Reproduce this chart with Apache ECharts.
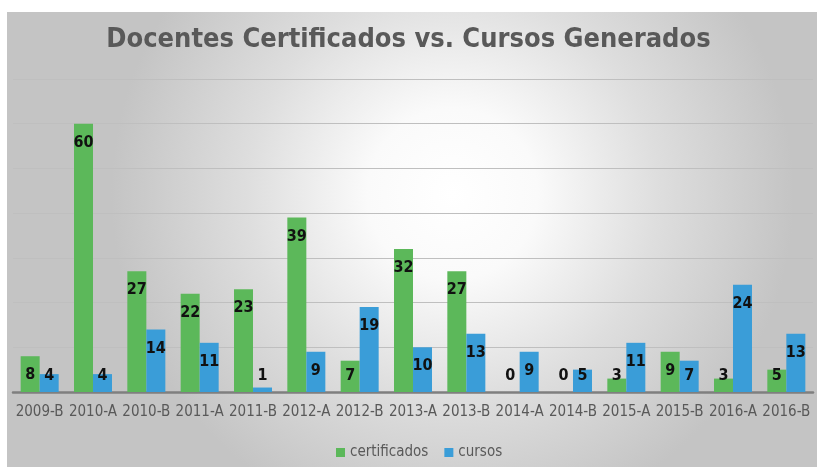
<!DOCTYPE html>
<html>
<head>
<meta charset="utf-8">
<script src="https://cdn.jsdelivr.net/npm/echarts@6/dist/echarts.min.js"></script>
<style>
  html, body { margin: 0; padding: 0; background: #fff; }
  #chart { width: 817px; height: 467px; }
</style>
</head>
<body>
<div id="chart"></div>
<script>
  const categories = ['2009-B', '2010-A', '2010-B', '2011-A', '2011-B', '2012-A', '2012-B', '2013-A',
    '2013-B', '2014-A', '2014-B', '2015-A', '2015-B', '2016-A', '2016-B'];
  const certificados = [8, 60, 27, 22, 23, 39, 7, 32, 27, 0, 0, 3, 9, 3, 5];
  const cursos = [4, 4, 14, 11, 1, 9, 19, 10, 13, 9, 5, 11, 7, 24, 13];

  const font = "'Liberation Sans Narrow', 'DejaVu Sans Condensed', sans-serif";

  // short bars get their label pushed up from the base, like Excel does
  function withLabels(values) {
    return values.map(v => v >= 8
      ? { value: v, label: { position: 'insideTop', distance: 11 } }
      : { value: v, label: { position: 'insideBottom', distance: 8 } });
  }

  const labelStyle = {
    show: true,
    color: '#111',
    fontWeight: 'bold',
    fontSize: 16,
    fontFamily: font
  };

  const myChart = echarts.init(document.getElementById('chart'));

  const option = {
    backgroundColor: '#fff',
    animation: false,
    graphic: [{
      type: 'rect',
      z: -10,
      silent: true,
      shape: { x: 7, y: 12, width: 810, height: 455 },
      style: {
        fill: new echarts.graphic.RadialGradient(0.55, 0.4, 0.75, [
          { offset: 0, color: '#ffffff' },
          { offset: 0.25, color: '#fafafa' },
          { offset: 0.6, color: '#dedede' },
          { offset: 1, color: '#c4c4c4' }
        ])
      }
    }],
    title: {
      text: 'Docentes Certificados vs. Cursos Generados',
      left: 'center',
      top: 21,
      textStyle: {
        color: '#595959',
        fontSize: 27,
        fontWeight: 'bold',
        fontFamily: font
      }
    },
    legend: {
      bottom: 2,
      left: 331,
      icon: 'rect',
      itemWidth: 9,
      itemHeight: 9,
      itemGap: 16,
      textStyle: { color: '#595959', fontSize: 15, fontFamily: font },
      data: ['certificados', 'cursos']
    },
    grid: {
      left: 13,
      right: 4,
      top: 79,
      bottom: 75
    },
    xAxis: {
      type: 'category',
      data: categories,
      axisTick: { show: false },
      axisLine: { lineStyle: { color: '#7f7f7f', width: 2.5 } },
      axisLabel: {
        color: '#595959',
        fontSize: 15,
        fontFamily: font,
        margin: 13,
        interval: 0
      }
    },
    yAxis: {
      type: 'value',
      min: 0,
      max: 70,
      interval: 10,
      axisLabel: { show: false },
      axisLine: { show: false },
      axisTick: { show: false },
      splitLine: { lineStyle: { color: '#bfbfbf', width: 1 } }
    },
    series: [
      {
        name: 'certificados',
        type: 'bar',
        barWidth: 19,
        barGap: '0%',
        itemStyle: { color: '#5cb85a' },
        label: labelStyle,
        data: withLabels(certificados)
      },
      {
        name: 'cursos',
        type: 'bar',
        barWidth: 19,
        barGap: '0%',
        itemStyle: { color: '#3a9dd8' },
        label: labelStyle,
        data: withLabels(cursos)
      }
    ]
  };

  myChart.setOption(option);
</script>
</body>
</html>
